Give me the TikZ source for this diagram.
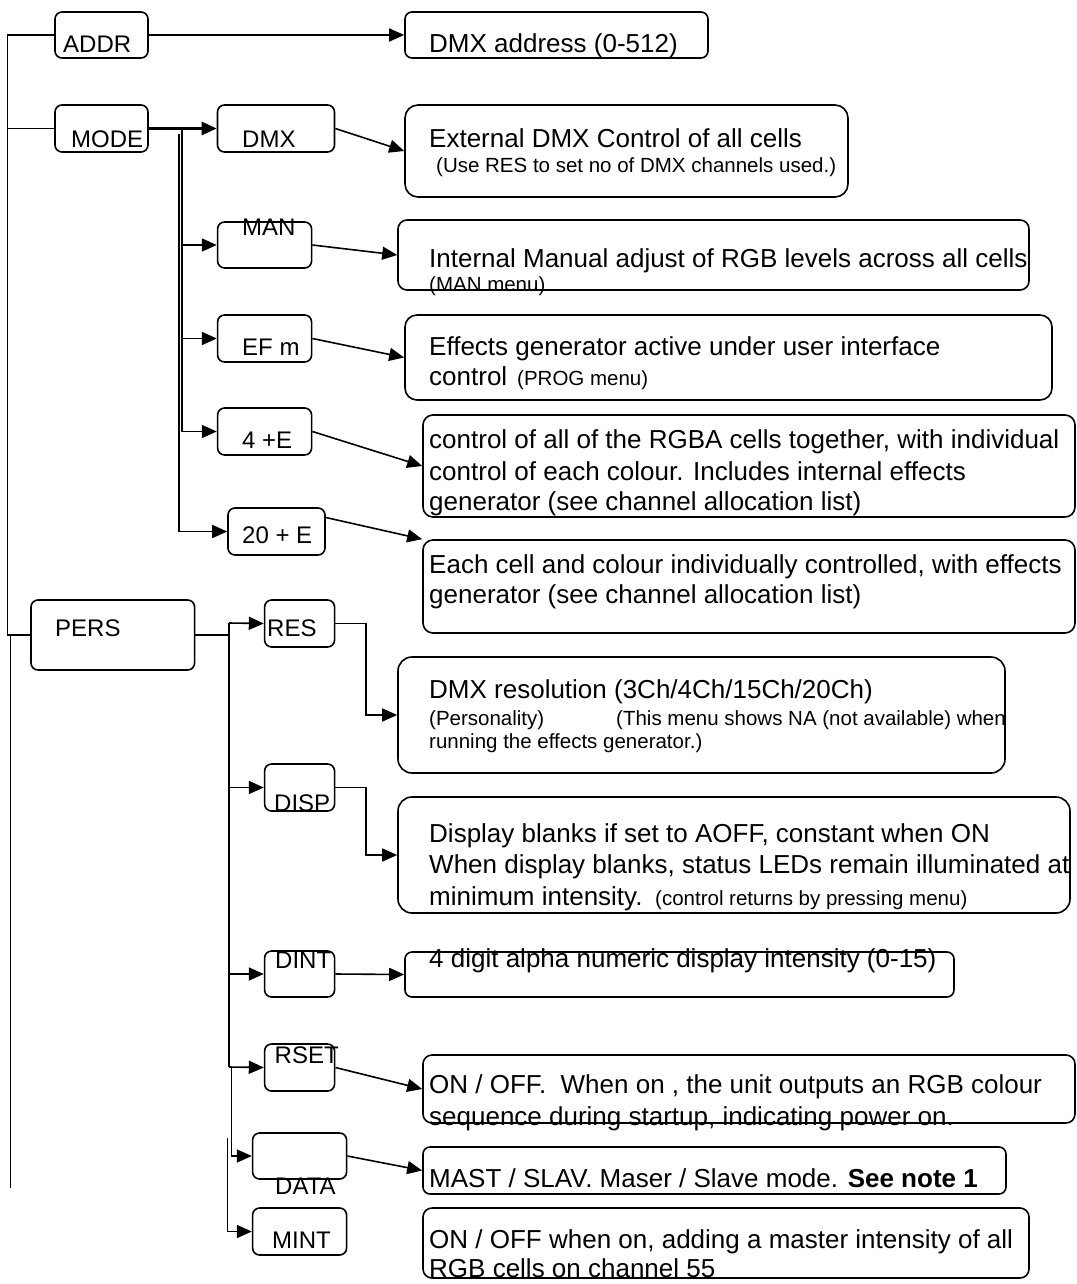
\documentclass[tikz,border=0pt]{standalone}
\usepackage{fontspec}
\setmainfont{Liberation Sans}
\usetikzlibrary{arrows.meta}
\begin{document}
\begin{tikzpicture}[x=1pt,y=-1pt,
  lw/.style={line width=1.6pt},
  lbox/.style={draw,lw,rounded corners=7pt,inner sep=0pt},
  dbox/.style={draw,lw,rounded corners=11pt,inner sep=0pt},
  lbl/.style={anchor=base west,inner sep=0pt,font=\fontsize{24}{29}\selectfont},
  txt/.style={anchor=base west,inner sep=0pt,font=\fontsize{26}{31}\selectfont},
  sml/.style={anchor=base west,inner sep=0pt,font=\fontsize{20.5}{24}\selectfont},
  arr/.style={lw,-{Triangle[length=15pt,width=13pt]}},
  thk/.style={line width=2.7pt}]
\useasboundingbox[fill=white] (0,0) rectangle (1076,1284);

% ---- label boxes ----
\node[lbox,minimum width=93pt,minimum height=46pt] (addr) at (101.5,35) {};
\node[lbox,minimum width=93pt,minimum height=47pt] (mode) at (101.5,128.5) {};
\node[lbox,minimum width=117pt,minimum height=47pt] (dmx) at (276,128.5) {};
\node[lbox,minimum width=94pt,minimum height=46pt] (man) at (264.6,245) {};
\node[lbox,minimum width=94pt,minimum height=47pt] (efm) at (264.6,338.5) {};
\node[lbox,minimum width=94pt,minimum height=47pt] (e4) at (264.6,431.5) {};
\node[lbox,minimum width=97pt,minimum height=47pt] (e20) at (276.5,531.5) {};
\node[lbox,minimum width=163.6pt,minimum height=70pt] (pers) at (112.8,635) {};
\node[lbox,minimum width=70pt,minimum height=47pt] (res) at (299.6,623.5) {};
\node[lbox,minimum width=70pt,minimum height=47pt] (disp) at (299.6,787.5) {};
\node[lbox,minimum width=70pt,minimum height=46pt] (dint) at (299.6,974) {};
\node[lbox,minimum width=70pt,minimum height=47pt] (rset) at (299.6,1067.5) {};
\node[lbox,minimum width=94pt,minimum height=46pt] (data) at (299.6,1156) {};
\node[lbox,minimum width=94pt,minimum height=47pt] (mint) at (299.6,1231.5) {};

% ---- description boxes ----
\node[lbox,minimum width=303pt,minimum height=46pt] (addrd) at (556.5,35) {};
\node[dbox,rounded corners=13pt,minimum width=443pt,minimum height=92pt] (dmxd) at (626.5,151) {};
\node[dbox,rounded corners=9pt,minimum width=631pt,minimum height=70pt] (mand) at (713.5,255) {};
\node[dbox,rounded corners=12pt,minimum width=647pt,minimum height=85pt] (efmd) at (728.5,357.5) {};
\node[dbox,rounded corners=10pt,minimum width=652pt,minimum height=102pt] (e4d) at (749,466) {};
\node[dbox,rounded corners=10pt,minimum width=652pt,minimum height=93pt] (e20d) at (749,586.5) {};
\node[dbox,rounded corners=14pt,minimum width=607pt,minimum height=116pt] (resd) at (701.5,715) {};
\node[dbox,rounded corners=14pt,minimum width=672pt,minimum height=116pt] (dispd) at (734,855) {};
\node[lbox,minimum width=549pt,minimum height=45pt] (dintd) at (679.5,974.5) {};
\node[dbox,rounded corners=9pt,minimum width=652pt,minimum height=68pt] (rsetd) at (749,1089) {};
\node[lbox,minimum width=583pt,minimum height=47pt] (datad) at (714.5,1170.5) {};
\node[dbox,rounded corners=9pt,minimum width=606pt,minimum height=70pt] (mintd) at (726,1243) {};

% ---- label texts ----
\node[lbl] (taddr) at (63,53) {ADDR};
\node[lbl] (tmode) at (71,148) {MODE};
\node[lbl] (tdmx) at (242,148) {DMX};
\node[lbl] (tman) at (242,235) {MAN};
\node[lbl] (tefm) at (242,355) {EF m};
\node[lbl] (te4) at (242,448) {4 +E};
\node[lbl] (te20) at (242,543) {20 + E};
\node[lbl] (tpers) at (55,636) {PERS};
\node[lbl] (tres) at (267,636) {RES};
\node[lbl] (tdisp) at (274,811) {DISP};
\node[lbl] (tdint) at (275,968) {DINT};
\node[lbl] (trset) at (274.5,1063) {RSET};
\node[lbl] (tdata) at (275,1194) {DATA};
\node[lbl] (tmint) at (272,1248) {MINT};

% ---- description texts ----
\node[txt] (daddr) at (429,53) {DMX address (0-512)};
\node[txt] (ddmx1) at (429,148) {External DMX Control of all cells};
\node[sml] (ddmx2) at (436,173) {(Use RES to set no of DMX channels used.)};
\node[txt] (dman1) at (429,267) {Internal Manual adjust of RGB levels across all cells};
\node[sml] (dman2) at (429,291) {(MAN menu)};
\node[txt] (defm1) at (429,355) {Effects generator active under user interface};
\node[txt] (defm2) at (429,385) {control};
\node[sml] (defm3) at (517,385) {(PROG menu)};
\node[txt] (de41) at (429,448) {control of all of the RGBA cells together, with individual};
\node[txt] (de42) at (429,480) {control of each colour. Includes internal effects};
\node[txt] (de43) at (429,510) {generator (see channel allocation list)};
\node[txt] (de201) at (429,573) {Each cell and colour individually controlled, with effects};
\node[txt] (de202) at (429,603) {generator (see channel allocation list)};
\node[txt] (dres1) at (429,698) {DMX resolution (3Ch/4Ch/15Ch/20Ch)};
\node[sml] (dres2) at (429,725) {(Personality)};
\node[sml] (dres3) at (616,725) {(This menu shows NA (not available) when};
\node[sml] (dres4) at (429,748) {running the effects generator.)};
\node[txt] (ddisp1) at (429,842) {Display blanks if set to AOFF, constant when ON};
\node[txt] (ddisp2) at (429,873) {When display blanks, status LEDs remain illuminated at};
\node[txt] (ddisp3) at (429,905) {minimum intensity.};
\node[sml] (ddisp4) at (655,905) {(control returns by pressing menu)};
\node[txt] (ddint) at (429,967) {4 digit alpha numeric display intensity (0-15)};
\node[txt] (drset1) at (429,1093) {ON / OFF.~ When on , the unit outputs an RGB colour};
\node[txt] (drset2) at (429,1125) {sequence during startup, indicating power on.};
\node[txt] (ddata) at (429,1187) {MAST / SLAV. Maser / Slave mode. \textbf{See note 1}};
\node[txt] (dmint1) at (429,1248) {ON / OFF when on, adding a master intensity of all};
\node[txt] (dmint2) at (429,1277) {RGB cells on channel 55};

% ---- spine ----
\coordinate (s0) at (7.6,35);
\coordinate (s1) at (7.6,635);
\coordinate (s2) at (10.3,635);
\coordinate (s3) at (10.3,1188);
\draw[lw] (addr.west) -- (addr.west -| s0) -- (s1) -- (pers.west);
\draw[lw] (mode.west) -- (mode.west -| s0);
\draw[lw] (s2) -- (s3);

% ---- ADDR ----
\draw[arr] (addr.east) -- (addrd.west);

% ---- MODE ----
\draw[arr,thk] (mode.east) -- (dmx.west);
\draw[arr] (dmx.east) -- (dmxd.west);
\coordinate (m1) at (182,128);
\coordinate (m2) at (179,134);
\draw[arr] (m1) |- (e4.west);
\draw[arr] (m1 |- man.west) -- (man.west);
\draw[arr] (m1 |- efm.west) -- (efm.west);
\draw[arr] (m2) |- (e20.west);
\draw[arr] (man.east) -- (mand.west);
\draw[arr] (efm.east) -- (efmd.west);
\draw[arr] (e4.east) -- (e4d.west);
\draw[arr] ([yshift=14pt]e20.east) -- (e20d.north west);

% ---- PERS ----
\coordinate (p1) at (229,623);
\coordinate (p2) at (229,1067);
\coordinate (p3) at (231.5,1067);
\coordinate (p4) at (227.5,1138);
\coordinate (rx) at (366,0);
\draw[thk] (pers.east) -- (pers.east -| p1);
\draw[thk] (p1) -- (p2);
\draw[arr] (p1) -- (res.west);
\draw[arr] (p1 |- disp.west) -- (disp.west);
\draw[arr] (p1 |- dint.west) -- (dint.west);
\draw[arr] (p2) -- (rset.west);
\draw[arr] (p3) |- (data.west);
\draw[arr] (p4) |- (mint.west);
\draw[arr] (res.east) -- (res.east -| rx) |- (resd.west);
\draw[arr] (disp.east) -- (disp.east -| rx) |- (dispd.west);
\draw[arr] (dint.east) -- (dintd.west);
\draw[arr] (rset.east) -- (rsetd.west);
\draw[arr] (data.east) -- (datad.west);
\end{tikzpicture}
\end{document}
